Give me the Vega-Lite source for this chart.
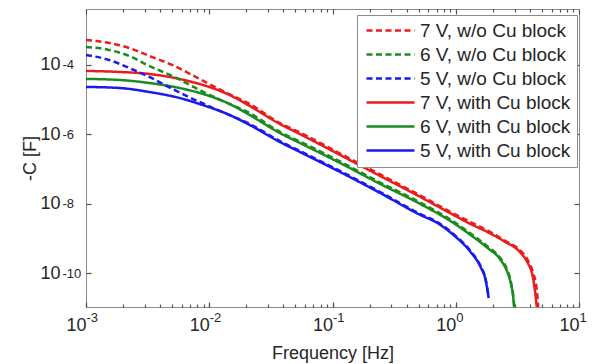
{
  "$schema": "https://vega.github.io/schema/vega-lite/v6.json",
  "width": 493,
  "height": 298,
  "autosize": {"type": "none"},
  "padding": {"left": 86, "top": 9, "right": 21, "bottom": 57},
  "background": "white",
  "config": {
    "view": {"stroke": "#8c8c8c", "strokeWidth": 1},
    "axis": {"grid": false, "domain": false, "zindex": 1, "labelFont": "Liberation Sans", "titleFont": "Liberation Sans", "labelColor": "#262626", "titleColor": "#262626", "titleFontWeight": "normal", "tickColor": "#505050", "tickWidth": 1.2, "tickOpacity": 1, "labelFlush": false, "labelOverlap": false}
  },
  "datasets": {
    "curves": [
      {"s": "7 V, with Cu block", "f": 0.001, "C": 6.71e-5},
      {"s": "7 V, with Cu block", "f": 0.001857, "C": 6.28e-5},
      {"s": "7 V, with Cu block", "f": 0.00326, "C": 5.50e-5},
      {"s": "7 V, with Cu block", "f": 0.00572, "C": 3.95e-5},
      {"s": "7 V, with Cu block", "f": 0.00833, "C": 2.83e-5},
      {"s": "7 V, with Cu block", "f": 0.01462, "C": 1.36e-5},
      {"s": "7 V, with Cu block", "f": 0.02127, "C": 6.57e-6},
      {"s": "7 V, with Cu block", "f": 0.03735, "C": 1.99e-6},
      {"s": "7 V, with Cu block", "f": 0.05435, "C": 1.02e-6},
      {"s": "7 V, with Cu block", "f": 0.1151, "C": 2.54e-7},
      {"s": "7 V, with Cu block", "f": 0.2438, "C": 6.29e-8},
      {"s": "7 V, with Cu block", "f": 0.5162, "C": 1.56e-8},
      {"s": "7 V, with Cu block", "f": 0.9587, "C": 4.72e-9},
      {"s": "7 V, with Cu block", "f": 1.319, "C": 2.59e-9},
      {"s": "7 V, with Cu block", "f": 1.814, "C": 1.52e-9},
      {"s": "7 V, with Cu block", "f": 2.449, "C": 8.39e-10},
      {"s": "7 V, with Cu block", "f": 3.369, "C": 3.78e-10},
      {"s": "7 V, with Cu block", "f": 3.842, "C": 1.95e-10},
      {"s": "7 V, with Cu block", "f": 4.221, "C": 7.68e-11},
      {"s": "7 V, with Cu block", "f": 4.464, "C": 1.90e-11},
      {"s": "7 V, with Cu block", "f": 4.634, "C": 5.05e-12},
      {"s": "6 V, with Cu block", "f": 0.001, "C": 3.95e-5},
      {"s": "6 V, with Cu block", "f": 0.001857, "C": 3.69e-5},
      {"s": "6 V, with Cu block", "f": 0.00326, "C": 3.02e-5},
      {"s": "6 V, with Cu block", "f": 0.00572, "C": 2.17e-5},
      {"s": "6 V, with Cu block", "f": 0.00833, "C": 1.56e-5},
      {"s": "6 V, with Cu block", "f": 0.01462, "C": 7.50e-6},
      {"s": "6 V, with Cu block", "f": 0.02127, "C": 3.61e-6},
      {"s": "6 V, with Cu block", "f": 0.03735, "C": 1.09e-6},
      {"s": "6 V, with Cu block", "f": 0.05435, "C": 5.63e-7},
      {"s": "6 V, with Cu block", "f": 0.1151, "C": 1.49e-7},
      {"s": "6 V, with Cu block", "f": 0.2438, "C": 3.70e-8},
      {"s": "6 V, with Cu block", "f": 0.5162, "C": 9.79e-9},
      {"s": "6 V, with Cu block", "f": 0.9587, "C": 2.77e-9},
      {"s": "6 V, with Cu block", "f": 1.319, "C": 1.25e-9},
      {"s": "6 V, with Cu block", "f": 1.814, "C": 5.27e-10},
      {"s": "6 V, with Cu block", "f": 2.315, "C": 2.37e-10},
      {"s": "6 V, with Cu block", "f": 2.640, "C": 1.00e-10},
      {"s": "6 V, with Cu block", "f": 2.793, "C": 5.16e-11},
      {"s": "6 V, with Cu block", "f": 2.954, "C": 1.37e-11},
      {"s": "6 V, with Cu block", "f": 3.010, "C": 5.05e-12},
      {"s": "5 V, with Cu block", "f": 0.001, "C": 2.32e-5},
      {"s": "5 V, with Cu block", "f": 0.001857, "C": 2.17e-5},
      {"s": "5 V, with Cu block", "f": 0.00326, "C": 1.66e-5},
      {"s": "5 V, with Cu block", "f": 0.00572, "C": 1.12e-5},
      {"s": "5 V, with Cu block", "f": 0.00833, "C": 7.50e-6},
      {"s": "5 V, with Cu block", "f": 0.01462, "C": 3.61e-6},
      {"s": "5 V, with Cu block", "f": 0.02127, "C": 1.86e-6},
      {"s": "5 V, with Cu block", "f": 0.03735, "C": 6.01e-7},
      {"s": "5 V, with Cu block", "f": 0.05435, "C": 3.10e-7},
      {"s": "5 V, with Cu block", "f": 0.1151, "C": 8.20e-8},
      {"s": "5 V, with Cu block", "f": 0.2438, "C": 2.03e-8},
      {"s": "5 V, with Cu block", "f": 0.5162, "C": 4.72e-9},
      {"s": "5 V, with Cu block", "f": 0.7101, "C": 2.77e-9},
      {"s": "5 V, with Cu block", "f": 0.9587, "C": 1.25e-9},
      {"s": "5 V, with Cu block", "f": 1.319, "C": 4.04e-10},
      {"s": "5 V, with Cu block", "f": 1.591, "C": 1.49e-10},
      {"s": "5 V, with Cu block", "f": 1.747, "C": 6.29e-11},
      {"s": "5 V, with Cu block", "f": 1.849, "C": 1.90e-11},
      {"s": "7 V, w/o Cu block", "f": 0.001, "C": 5.26e-4},
      {"s": "7 V, w/o Cu block", "f": 0.001539, "C": 4.31e-4},
      {"s": "7 V, w/o Cu block", "f": 0.00224, "C": 3.09e-4},
      {"s": "7 V, w/o Cu block", "f": 0.00326, "C": 1.82e-4},
      {"s": "7 V, w/o Cu block", "f": 0.00521, "C": 9.36e-5},
      {"s": "7 V, w/o Cu block", "f": 0.00833, "C": 3.95e-5},
      {"s": "7 V, w/o Cu block", "f": 0.01331, "C": 1.66e-5},
      {"s": "7 V, w/o Cu block", "f": 0.02127, "C": 7.50e-6},
      {"s": "7 V, w/o Cu block", "f": 0.03735, "C": 2.12e-6},
      {"s": "7 V, w/o Cu block", "f": 0.05435, "C": 1.13e-6},
      {"s": "7 V, w/o Cu block", "f": 0.1151, "C": 2.80e-7},
      {"s": "7 V, w/o Cu block", "f": 0.2438, "C": 6.95e-8},
      {"s": "7 V, w/o Cu block", "f": 0.5162, "C": 1.72e-8},
      {"s": "7 V, w/o Cu block", "f": 0.9587, "C": 5.21e-9},
      {"s": "7 V, w/o Cu block", "f": 1.319, "C": 2.96e-9},
      {"s": "7 V, w/o Cu block", "f": 1.814, "C": 1.68e-9},
      {"s": "7 V, w/o Cu block", "f": 2.449, "C": 8.96e-10},
      {"s": "7 V, w/o Cu block", "f": 3.369, "C": 4.32e-10},
      {"s": "7 V, w/o Cu block", "f": 3.842, "C": 2.37e-10},
      {"s": "7 V, w/o Cu block", "f": 4.221, "C": 1.07e-10},
      {"s": "7 V, w/o Cu block", "f": 4.549, "C": 3.24e-11},
      {"s": "7 V, w/o Cu block", "f": 4.722, "C": 5.05e-12},
      {"s": "6 V, w/o Cu block", "f": 0.001, "C": 3.30e-4},
      {"s": "6 V, w/o Cu block", "f": 0.001539, "C": 2.71e-4},
      {"s": "6 V, w/o Cu block", "f": 0.00224, "C": 1.82e-4},
      {"s": "6 V, w/o Cu block", "f": 0.00326, "C": 9.36e-5},
      {"s": "6 V, w/o Cu block", "f": 0.00521, "C": 4.51e-5},
      {"s": "6 V, w/o Cu block", "f": 0.00833, "C": 1.90e-5},
      {"s": "6 V, w/o Cu block", "f": 0.01331, "C": 8.57e-6},
      {"s": "6 V, w/o Cu block", "f": 0.02127, "C": 4.13e-6},
      {"s": "6 V, w/o Cu block", "f": 0.03735, "C": 1.17e-6},
      {"s": "6 V, w/o Cu block", "f": 0.05435, "C": 6.22e-7},
      {"s": "6 V, w/o Cu block", "f": 0.1151, "C": 1.65e-7},
      {"s": "6 V, w/o Cu block", "f": 0.2438, "C": 4.08e-8},
      {"s": "6 V, w/o Cu block", "f": 0.5162, "C": 1.08e-8},
      {"s": "6 V, w/o Cu block", "f": 0.9587, "C": 3.06e-9},
      {"s": "6 V, w/o Cu block", "f": 1.319, "C": 1.38e-9},
      {"s": "6 V, w/o Cu block", "f": 1.814, "C": 5.82e-10},
      {"s": "6 V, w/o Cu block", "f": 2.315, "C": 2.62e-10},
      {"s": "6 V, w/o Cu block", "f": 2.640, "C": 1.14e-10},
      {"s": "6 V, w/o Cu block", "f": 2.793, "C": 5.89e-11},
      {"s": "6 V, w/o Cu block", "f": 2.954, "C": 1.67e-11},
      {"s": "6 V, w/o Cu block", "f": 3.05, "C": 5.05e-12},
      {"s": "5 V, w/o Cu block", "f": 0.001, "C": 1.94e-4},
      {"s": "5 V, w/o Cu block", "f": 0.001539, "C": 1.39e-4},
      {"s": "5 V, w/o Cu block", "f": 0.00224, "C": 8.19e-5},
      {"s": "5 V, w/o Cu block", "f": 0.00326, "C": 4.51e-5},
      {"s": "5 V, w/o Cu block", "f": 0.00521, "C": 1.90e-5},
      {"s": "5 V, w/o Cu block", "f": 0.00833, "C": 8.57e-6},
      {"s": "5 V, w/o Cu block", "f": 0.01331, "C": 4.13e-6},
      {"s": "5 V, w/o Cu block", "f": 0.02127, "C": 1.99e-6},
      {"s": "5 V, w/o Cu block", "f": 0.03735, "C": 6.42e-7},
      {"s": "5 V, w/o Cu block", "f": 0.05435, "C": 3.31e-7},
      {"s": "5 V, w/o Cu block", "f": 0.1151, "C": 8.76e-8},
      {"s": "5 V, w/o Cu block", "f": 0.2438, "C": 2.17e-8},
      {"s": "5 V, w/o Cu block", "f": 0.5162, "C": 5.04e-9},
      {"s": "5 V, w/o Cu block", "f": 0.7101, "C": 2.96e-9},
      {"s": "5 V, w/o Cu block", "f": 0.9587, "C": 1.33e-9},
      {"s": "5 V, w/o Cu block", "f": 1.319, "C": 4.32e-10},
      {"s": "5 V, w/o Cu block", "f": 1.591, "C": 1.59e-10},
      {"s": "5 V, w/o Cu block", "f": 1.747, "C": 6.72e-11},
      {"s": "5 V, w/o Cu block", "f": 1.849, "C": 2.03e-11}
    ]
  },
  "data": {"name": "curves"},
  "layer": [
    {
      "mark": {"type": "line", "strokeWidth": 2.5, "clip": true, "interpolate": "monotone"},
      "encoding": {
        "x": {"field": "f", "type": "quantitative", "scale": {"type": "log", "domain": [0.001, 10], "nice": false},
          "axis": {"orient": "bottom", "offset": -5, "values": [0.001, 0.01, 0.1, 1, 10], "labelExpr": "'10'", "ticks": true, "tickSize": 5, "labelFontSize": 18, "labelPadding": 9, "labelAlign": "right", "labelDx": 6.5, "labelBaseline": "top",
            "title": "Frequency [Hz]", "titleFontSize": 18, "titleX": 246.5, "titleY": 51, "titleBaseline": "middle", "titleAlign": "center"}},
        "y": {"field": "C", "type": "quantitative", "scale": {"type": "log", "domain": [1.05e-11, 4.1e-3], "nice": false},
          "axis": {"orient": "left", "offset": -5, "values": [1e-10, 1e-8, 1e-6, 1e-4], "labelExpr": "'10'", "ticks": true, "tickSize": 5, "labelFontSize": 18, "labelPadding": 26, "labelAlign": "right", "labelBaseline": "middle", "labelDy": 1.5,
            "title": "-C [F]", "titleFontSize": 18, "titleX": -61, "titleY": 149, "titleAngle": -90, "titleAlign": "center", "titleBaseline": "middle"}},
        "color": {"field": "s", "type": "nominal",
          "scale": {"domain": ["7 V, w/o Cu block", "6 V, w/o Cu block", "5 V, w/o Cu block", "7 V, with Cu block", "6 V, with Cu block", "5 V, with Cu block"],
            "range": ["#ec1c1c", "#1a8c1f", "#1a1aee", "#ec1c1c", "#1a8c1f", "#1a1aee"]},
          "legend": {"title": null, "orient": "none", "legendX": 271, "legendY": 6, "strokeColor": "#8c8c8c", "fillColor": "white", "padding": 6, "labelFont": "Liberation Sans", "labelFontSize": 19, "labelColor": "#262626", "symbolType": "M-1,0H7", "symbolSize": 144, "symbolStrokeWidth": 2.5, "rowPadding": 4, "labelOffset": 38}},
        "strokeDash": {"field": "s", "type": "nominal",
          "scale": {"domain": ["7 V, w/o Cu block", "6 V, w/o Cu block", "5 V, w/o Cu block", "7 V, with Cu block", "6 V, with Cu block", "5 V, with Cu block"],
            "range": [[6, 3.5], [6, 3.5], [6, 3.5], [1, 0], [1, 0], [1, 0]]},
          "legend": {"title": null, "orient": "none", "legendX": 271, "legendY": 6, "strokeColor": "#8c8c8c", "fillColor": "white", "padding": 6, "labelFont": "Liberation Sans", "labelFontSize": 19, "labelColor": "#262626", "symbolType": "M-1,0H7", "symbolSize": 144, "symbolStrokeWidth": 2.5, "rowPadding": 4, "labelOffset": 38}}
      }
    },
    {
      "mark": {"type": "point", "opacity": 0, "clip": true},
      "encoding": {
        "x": {"field": "f", "type": "quantitative", "scale": {"type": "log", "domain": [0.001, 10], "nice": false},
          "axis": {"orient": "bottom", "offset": -3, "values": [0.001, 0.002, 0.003, 0.004, 0.005, 0.006, 0.007, 0.008, 0.009, 0.01, 0.02, 0.03, 0.04, 0.05, 0.06, 0.07, 0.08, 0.09, 0.1, 0.2, 0.3, 0.4, 0.5, 0.6, 0.7, 0.8, 0.9, 1, 2, 3, 4, 5, 6, 7, 8, 9, 10],
            "labelExpr": "datum.value == 0.001 ? '-3' : datum.value == 0.01 ? '-2' : datum.value == 0.1 ? '-1' : datum.value == 1 ? '0' : datum.value == 10 ? '1' : ''", "ticks": true, "tickSize": 3, "labelFontSize": 13, "labelPadding": 4, "labelAlign": "left", "labelDx": 8, "labelBaseline": "top", "title": null}},
        "y": {"field": "C", "type": "quantitative", "scale": {"type": "log", "domain": [1.05e-11, 4.1e-3], "nice": false},
          "axis": {"orient": "left", "values": [1e-10, 1e-8, 1e-6, 1e-4], "labelExpr": "'-' + format(-log(datum.value)/LN10, '.0f')", "ticks": false, "labelFontSize": 13, "labelPadding": 24, "labelAlign": "left", "labelBaseline": "middle", "labelDy": -8.5, "title": null}}
      }
    },
    {
      "mark": {"type": "point", "opacity": 0, "clip": true},
      "encoding": {
        "x": {"field": "f", "type": "quantitative", "scale": {"type": "log", "domain": [0.001, 10], "nice": false},
          "axis": {"orient": "top", "offset": -5, "values": [0.001, 0.01, 0.1, 1, 10], "labelExpr": "''", "ticks": true, "tickSize": 5, "title": null}},
        "y": {"field": "C", "type": "quantitative", "scale": {"type": "log", "domain": [1.05e-11, 4.1e-3], "nice": false},
          "axis": {"orient": "right", "offset": -5, "values": [1e-10, 1e-8, 1e-6, 1e-4], "labelExpr": "''", "ticks": true, "tickSize": 5, "title": null}}
      }
    },
    {
      "mark": {"type": "point", "opacity": 0, "clip": true},
      "encoding": {
        "x": {"field": "f", "type": "quantitative", "scale": {"type": "log", "domain": [0.001, 10], "nice": false},
          "axis": {"orient": "top", "offset": -3, "values": [0.002, 0.003, 0.004, 0.005, 0.006, 0.007, 0.008, 0.009, 0.02, 0.03, 0.04, 0.05, 0.06, 0.07, 0.08, 0.09, 0.2, 0.3, 0.4, 0.5, 0.6, 0.7, 0.8, 0.9, 2, 3, 4, 5, 6, 7, 8, 9], "labelExpr": "''", "ticks": true, "tickSize": 3, "title": null}},
        "y": {"field": "C", "type": "quantitative", "scale": {"type": "log", "domain": [1.05e-11, 4.1e-3], "nice": false}, "axis": null}
      }
    }
  ],
  "resolve": {"axis": {"x": "independent", "y": "independent"}}
}
